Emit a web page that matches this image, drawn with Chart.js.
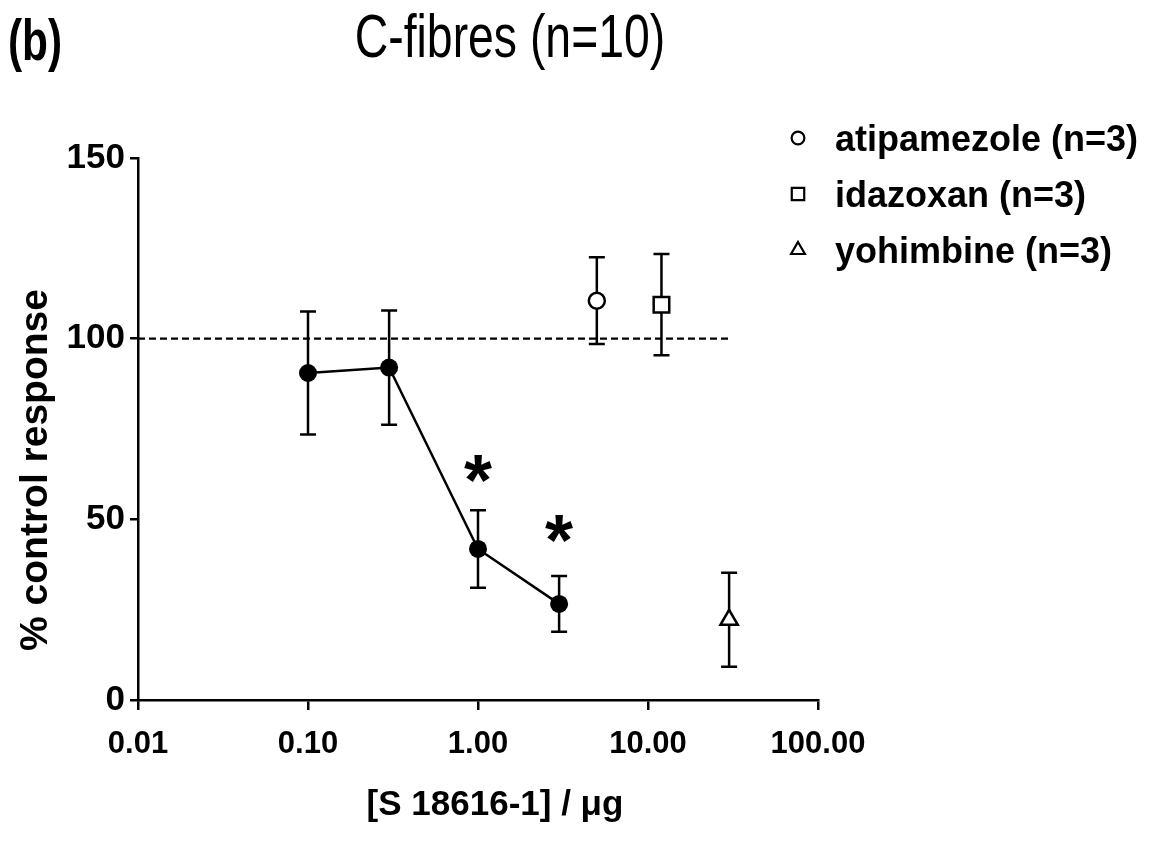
<!DOCTYPE html>
<html>
<head>
<meta charset="utf-8">
<script src="https://cdn.jsdelivr.net/npm/chart.js@4"></script>
<style>html,body{margin:0;background:#fff}</style>
</head>
<body>
<canvas id="chart" width="1152" height="841"></canvas>
<script>
// C-fibres, S 18616-1 dose-response (mean ± SEM)
const doses = [0.1, 0.3, 1, 3];
const means = [90.5, 92, 41.8, 26.6];
const sem = [17, 15.8, 10.7, 7.7];

// antagonists given after the top dose
const antNames = ['atipamezole (n=3)', 'idazoxan (n=3)', 'yohimbine (n=3)'];
const antDoses = [5, 12, 30];
const antMeans = [110.5, 109.4, 22.2];
const antSem = [12, 14, 13];
const antStyles = ['circle', 'rect', 'triangle'];
const antRadius = [8, 11, 10];

// significance marks
const sigDoses = [1, 3];
const sigY = [64, 47.5];

// control level
const baseX = [0.01, 30];
const baseY = [100, 100];

const xTicks = [0.01, 0.1, 1, 10, 100];
const yTicks = [0, 50, 100, 150];

const sans = "'Liberation Sans', Arial, sans-serif";

// condensed-looking text: squeeze horizontally
function squeezed(ctx, text, x, y, sx) {
  ctx.save();
  ctx.translate(x, y);
  ctx.scale(sx, 1);
  ctx.fillText(text, 0, 0);
  ctx.restore();
}

const extras = {
  id: 'extras',
  beforeDatasetsDraw(chart) {
    const {ctx, scales: {x, y}} = chart;
    ctx.save();
    ctx.strokeStyle = '#000';
    ctx.lineWidth = 2.5;
    const bar = (d, m, e) => {
      const px = x.getPixelForValue(d);
      const t = y.getPixelForValue(m + e), b = y.getPixelForValue(m - e);
      ctx.beginPath();
      ctx.moveTo(px, t); ctx.lineTo(px, b);
      ctx.moveTo(px - 8, t); ctx.lineTo(px + 8, t);
      ctx.moveTo(px - 8, b); ctx.lineTo(px + 8, b);
      ctx.stroke();
    };
    doses.forEach((d, i) => bar(d, means[i], sem[i]));
    antDoses.forEach((d, i) => bar(d, antMeans[i], antSem[i]));
    ctx.restore();
  },
  afterDraw(chart) {
    const {ctx, scales: {x, y}} = chart;
    ctx.save();
    ctx.fillStyle = '#000';

    // panel letter + title
    ctx.textBaseline = 'alphabetic';
    ctx.textAlign = 'left';
    ctx.font = 'bold 58px ' + sans;
    squeezed(ctx, '(b)', 8, 60, 0.73);
    ctx.textAlign = 'center';
    ctx.font = '61px ' + sans;
    squeezed(ctx, 'C-fibres (n=10)', 510, 57, 0.76);

    // asterisks
    ctx.font = 'bold 72px ' + sans;
    sigDoses.forEach((d, i) => {
      const m = ctx.measureText('*');
      const off = (m.actualBoundingBoxAscent - m.actualBoundingBoxDescent) / 2;
      ctx.fillText('*', x.getPixelForValue(d), y.getPixelForValue(sigY[i]) + off);
    });

    // axis titles
    ctx.font = 'bold 35px ' + sans;
    ctx.textBaseline = 'middle';
    ctx.fillText('[S 18616-1] / \u03bcg', 495, 805);
    ctx.save();
    ctx.translate(36, 470);
    ctx.rotate(-Math.PI / 2);
    ctx.font = 'bold 39px ' + sans;
    ctx.fillText('% control response', 0, 0);
    ctx.restore();

    // legend
    ctx.textAlign = 'left';
    ctx.textBaseline = 'alphabetic';
    ctx.font = 'bold 36px ' + sans;
    antNames.forEach((name, i) => {
      const base = 151 + i * 56;
      ctx.fillStyle = '#fff';
      ctx.strokeStyle = '#000';
      ctx.lineWidth = 2.2;
      Chart.helpers.drawPoint(ctx, {pointStyle: antStyles[i], radius: antRadius[i] * 0.8, rotation: 0, borderWidth: 2.2}, 798, base - 13);
      ctx.fillStyle = '#000';
      ctx.fillText(name, 835, base);
    });
    ctx.restore();
  }
};

const xTickFont = {family: sans, size: 31, weight: 'bold'};
const yTickFont = {family: sans, size: 35, weight: 'bold'};

new Chart(document.getElementById('chart'), {
  type: 'scatter',
  data: {
    datasets: [
      {
        data: doses.map((d, i) => ({x: d, y: means[i]})),
        showLine: true,
        borderColor: '#000',
        borderWidth: 2.5,
        backgroundColor: '#000',
        pointRadius: 9,
        pointBorderWidth: 0
      },
      ...antDoses.map((d, i) => ({
        data: [{x: d, y: antMeans[i]}],
        pointStyle: antStyles[i],
        pointRadius: antRadius[i],
        pointBorderWidth: 2.5,
        borderColor: '#000',
        backgroundColor: '#fff'
      })),
      {
        data: baseX.map((v, i) => ({x: v, y: baseY[i]})),
        showLine: true,
        borderColor: '#000',
        borderWidth: 2.2,
        borderDash: [7, 4],
        pointRadius: 0
      }
    ]
  },
  options: {
    responsive: false,
    animation: false,
    layout: {padding: {top: 158, right: 334, left: 0, bottom: 0}},
    plugins: {legend: {display: false}, tooltip: {enabled: false}},
    scales: {
      x: {
        type: 'logarithmic',
        min: 0.01,
        max: 100,
        afterBuildTicks: axis => { axis.ticks = xTicks.map(v => ({value: v})); },
        afterFit: s => { s.height = 141; },
        grid: {drawOnChartArea: false, drawTicks: true, tickLength: 10, lineWidth: 2.5, color: '#000'},
        border: {display: true, color: '#000', width: 2.5},
        ticks: {color: '#000', font: xTickFont, padding: 16, maxRotation: 0, autoSkip: false,
          callback: v => Number(v).toFixed(2)}
      },
      y: {
        min: 0,
        max: 150,
        afterBuildTicks: axis => { axis.ticks = yTicks.map(v => ({value: v})); },
        afterFit: s => { s.width = 138; },
        grid: {drawOnChartArea: false, drawTicks: true, tickLength: 8, lineWidth: 2.5, color: '#000'},
        border: {display: true, color: '#000', width: 2.5},
        ticks: {color: '#000', font: yTickFont, padding: 5}
      }
    }
  },
  plugins: [extras]
});
</script>
</body>
</html>
